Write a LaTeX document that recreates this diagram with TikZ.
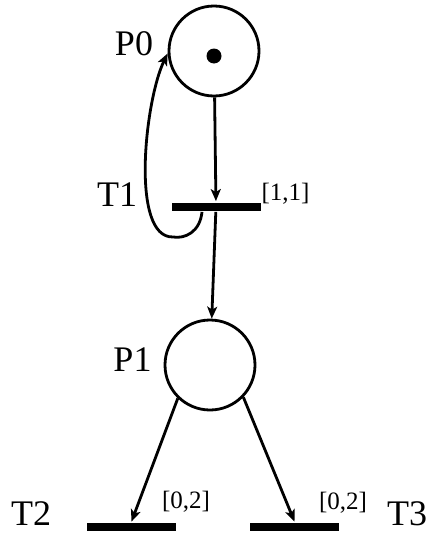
\documentclass[tikz,border=0pt]{standalone}
\usepackage{fontspec}
\setmainfont{Liberation Serif}
\usepackage{tikz}
\usetikzlibrary{arrows.meta}

\begin{document}
\begin{tikzpicture}[->,>={Stealth[length=12pt,width=10pt,inset=3pt]},x=1pt,y=-1pt,line width=2.8pt]

    % Define styles
    \tikzstyle{place} = [circle, draw, line width=2.8pt, minimum size=90pt, inner sep=0pt]
    \tikzstyle{token} = [circle, fill=black, minimum size=15pt, inner sep=0pt]
    \tikzstyle{transition} = [rectangle, fill=black, minimum width=89pt, minimum height=8pt, inner sep=0pt]
    \tikzstyle{tag} = [inner sep=0pt, font=\fontsize{36}{40}\selectfont]
    \tikzstyle{timing} = [inner sep=0pt, font=\fontsize{25}{28}\selectfont]

    \useasboundingbox (0,0) rectangle (427,533);

    % Places
    \node[place] (p0) at (214, 51) {};
    \node[token] (p0Token) at (214, 56) {};
    \node[place] (p1) at (210, 365) {};

    % Transitions
    \node[transition] (t1) at (216, 206.5) {};
    \node[transition] (t2) at (131.5, 527) {};
    \node[transition] (t3) at (294.5, 527) {};

    % Names
    \node[tag] (p0Name) at (134, 44) {P0};
    \node[tag] (p1Name) at (132.5, 360) {P1};
    \node[tag] (t1Name) at (117, 195) {T1};
    \node[tag] (t2Name) at (31, 513.5) {T2};
    \node[tag] (t3Name) at (407, 513.5) {T3};

    % Firing intervals
    \node[timing] (t1Time) at (285.5, 194) {[1,1]};
    \node[timing] (t2Time) at (186, 502) {[0,2]};
    \node[timing] (t3Time) at (343, 503) {[0,2]};

    % Arcs
    \draw[->] (p0) -- (t1);
    \draw[->] (t1) -- (p1);
    \draw[->] ([xshift=-14pt]t1.south) .. controls (200, 232) and (185, 239) .. (173, 237)
        .. controls (130, 238) and (145, 100) .. (p0.183);
    \draw[->] (p1.226) -- (t2.north);
    \draw[->] (p1.316) -- (t3.north);

\end{tikzpicture}
\end{document}
